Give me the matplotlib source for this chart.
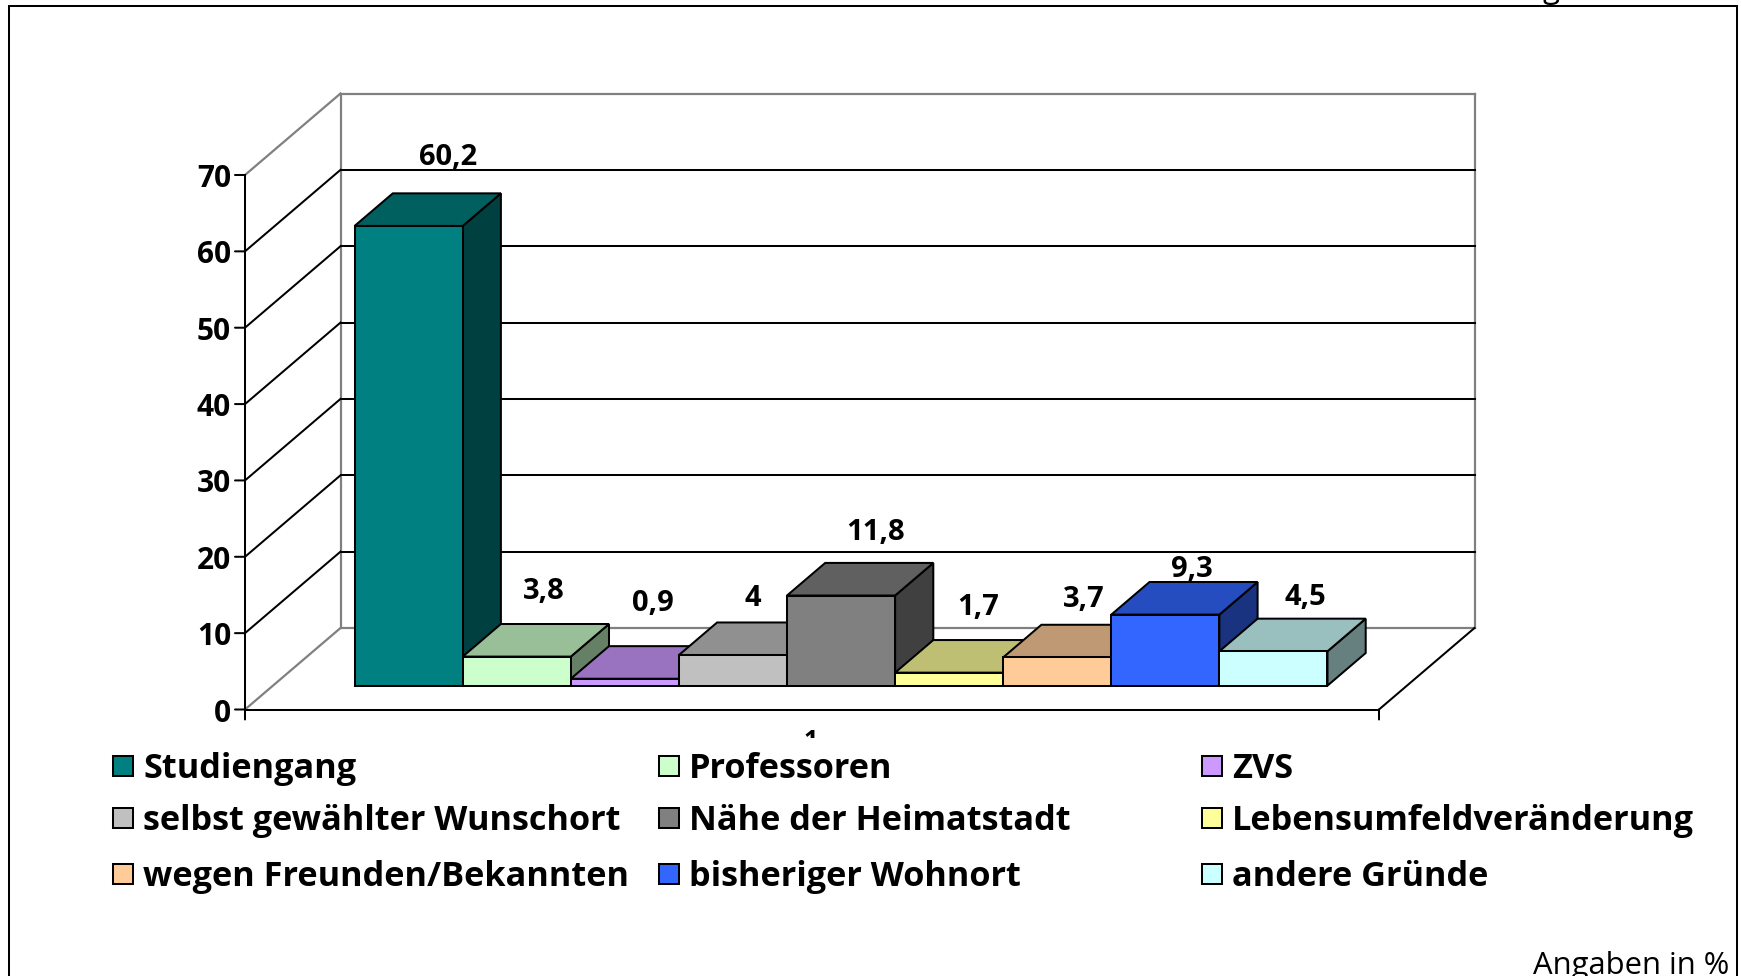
import matplotlib
matplotlib.use("Agg")
import matplotlib.pyplot as plt
from matplotlib.patches import Polygon, Rectangle
from matplotlib.colors import to_rgb

names = ["Studiengang", "Professoren", "ZVS",
         "selbst gewählter Wunschort", "Nähe der Heimatstadt", "Lebensumfeldveränderung",
         "wegen Freunden/Bekannten", "bisheriger Wohnort", "andere Gründe"]
values = [60.2, 3.8, 0.9, 4, 11.8, 1.7, 3.7, 9.3, 4.5]
colors = ["#008080", "#CCFFCC", "#CC99FF", "#C0C0C0", "#808080",
          "#FFFF99", "#FFCC99", "#3366FF", "#CCFFFF"]
yticks = [0, 10, 20, 30, 40, 50, 60, 70]

W, H = 1741, 976
fig = plt.figure(figsize=(W / 100, H / 100), dpi=100)
plt.rcParams['font.family'] = ['Open Sans', 'DejaVu Sans']

# overlay in pixels for frame and legend
pg = fig.add_axes([0, 0, 1, 1])
pg.set_xlim(0, W)
pg.set_ylim(H, 0)
pg.axis("off")

# front plane of the chart, 108 px per bar
x0, x1, ytop, ybot = 245, 1379, 175, 709.5
ax = fig.add_axes([x0 / W, 1 - ybot / H, (x1 - x0) / W, (ybot - ytop) / H])
xmax = (x1 - x0) / 108.1
ax.set_xlim(0, xmax)
ax.set_ylim(0, 70)
ax.axis("off")

# oblique depth: d=0 front plane, d=1 back wall
ddx = 95.5 / 108.1
ddy = 81.5 / 7.636


def pr(x, y, d=0):
    return (x + d * ddx, y + d * ddy)


def line(p, q, c="black", lw=1.45, z=1):
    ax.plot([p[0], q[0]], [p[1], q[1]], color=c, lw=lw, zorder=z, clip_on=False,
            solid_capstyle="projecting")


def shade(c, f):
    return tuple(v * f for v in to_rgb(c))


# walls
gray = "#808080"
line(pr(0, 0), pr(0, 0, 1), gray, 1.6)
line(pr(0, 70), pr(0, 70, 1), gray, 1.6)
line(pr(0, 70, 1), pr(xmax, 70, 1), gray, 1.6)
line(pr(0, 0, 1), pr(0, 70, 1), gray, 1.6)
line(pr(xmax, 0, 1), pr(xmax, 70, 1), gray, 1.6)
line(pr(0, 0, 1), pr(xmax, 0, 1), gray, 1.6)
for t in yticks[1:-1]:
    line(pr(0, t), pr(0, t, 1))
    line(pr(0, t, 1), pr(xmax, t, 1))

# axes lines
line(pr(0, 0), pr(0, 70), z=2)
line(pr(0, 0), pr(xmax, 0), z=2)
line(pr(xmax, 0), pr(xmax, 0, 1), z=2)

# ticks + tick labels
tick_len = 10
for t in yticks:
    ax.annotate("", xy=(0, t), xytext=(-tick_len, 0), textcoords="offset pixels",
                arrowprops=dict(arrowstyle="-", color="black", lw=1.45,
                                shrinkA=0, shrinkB=0))
    ax.annotate(str(t), xy=(0, t), xytext=(-14, -4), textcoords="offset pixels",
                ha="right", va="center", fontsize=21.5, fontweight="bold")
for xt in [0, xmax]:
    ax.annotate("", xy=(xt, 0), xytext=(0, -tick_len), textcoords="offset pixels",
                arrowprops=dict(arrowstyle="-", color="black", lw=1.45,
                                shrinkA=0, shrinkB=0))

# bars, left to right so later ones cover earlier ones
x_start = 0.755
d0, d1 = 0.293, 0.693
label_off = [(36, 32), (25, 29), (26, 38), (18, 22), (31, 27),
             (26, 29), (24, 23), (24, 11), (29, 19)]
for i, v in enumerate(values):
    l = x_start + i
    r = l + 1
    c = colors[i]
    z = 3 + i
    side = [pr(r, 0, d0), pr(r, 0, d1), pr(r, v, d1), pr(r, v, d0)]
    top = [pr(l, v, d0), pr(r, v, d0), pr(r, v, d1), pr(l, v, d1)]
    front = [pr(l, 0, d0), pr(r, 0, d0), pr(r, v, d0), pr(l, v, d0)]
    for pts, col in [(side, shade(c, 0.5)), (top, shade(c, 0.75)), (front, c)]:
        ax.add_patch(Polygon(pts, closed=True, fc=col, ec="black", lw=1.45,
                             zorder=z, clip_on=False, joinstyle="miter"))
    # label sits above the back edge of the top face
    ax.annotate(f"{v:g}".replace(".", ","), xy=pr((l + r) / 2, v, d1),
                xytext=(label_off[i][0] * 1.11 - 38.6, label_off[i][1] * 1.11),
                textcoords="offset pixels", ha="center", va="center",
                fontsize=21, fontweight="bold", zorder=20, annotation_clip=False)

# cut off category label, legend area covers the rest of it
pg.text(811, 748, "1", fontsize=18, fontweight="bold", ha="center", va="baseline", zorder=1)
pg.add_patch(Rectangle((60, 738), 1650, 170, fc="white", ec="none", zorder=2))

# legend
leg_x = [113, 659, 1202]
leg_y = [765, 817, 873]
for i, n in enumerate(names):
    hx = leg_x[i % 3]
    hy = leg_y[i // 3]
    pg.add_patch(Rectangle((hx, hy - 9), 20, 20, fc=colors[i], ec="black", lw=1.45, zorder=3))
    pg.text(hx + 30, hy, n, fontsize=24.7, fontweight="bold", va="center_baseline", ha="left", zorder=3)

# outer frame
pg.plot([9, 9], [976, 6], color="black", lw=1.45)
pg.plot([9, 1737], [6, 6], color="black", lw=1.45)
pg.plot([1737, 1737], [6, 976], color="black", lw=1.45)

pg.text(1729, 974, "Angaben in %", fontsize=22.3, ha="right", va="baseline")
pg.text(1551, -2, "g", fontsize=22.3, ha="center", va="baseline", clip_on=False)

fig.savefig("out.png", dpi=100)
